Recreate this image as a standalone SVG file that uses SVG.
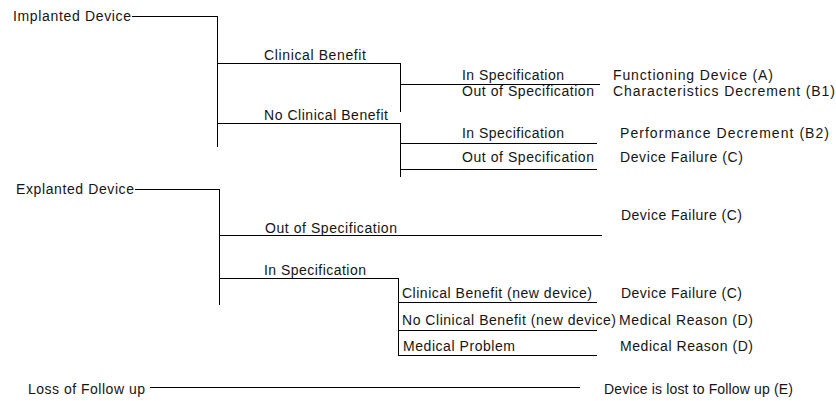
<svg xmlns="http://www.w3.org/2000/svg" width="836" height="401" viewBox="0 0 836 401">
<style>
text{font-family:"Liberation Sans",Arial,sans-serif;font-size:14px;fill:#151515}
.c line{stroke:#000;stroke-width:1;shape-rendering:crispEdges}
</style>
<rect width="836" height="401" fill="#fff"/>
<g class="c" id="connectors">
<line x1="132" y1="16" x2="217" y2="16"/>
<line x1="217" y1="16" x2="217" y2="147"/>
<line x1="217" y1="63" x2="400" y2="63"/>
<line x1="400" y1="63" x2="400" y2="112"/>
<line x1="400" y1="84" x2="600" y2="84"/>
<line x1="217" y1="123" x2="400" y2="123"/>
<line x1="400" y1="123" x2="400" y2="177"/>
<line x1="400" y1="143" x2="597" y2="143"/>
<line x1="400" y1="169" x2="597" y2="169"/>
<line x1="135" y1="189" x2="219" y2="189"/>
<line x1="219" y1="189" x2="219" y2="305"/>
<line x1="219" y1="235" x2="602" y2="235"/>
<line x1="219" y1="278" x2="399" y2="278"/>
<line x1="398" y1="278" x2="398" y2="356"/>
<line x1="398" y1="302" x2="597" y2="302"/>
<line x1="398" y1="330" x2="597" y2="330"/>
<line x1="398" y1="355" x2="597" y2="355"/>
<line x1="150" y1="387" x2="580" y2="387"/>
</g>
<g id="implanted"><text x="13" y="20.5" textLength="118" lengthAdjust="spacing">Implanted Device</text></g>
<g id="clinical-benefit"><text x="264" y="60" textLength="102" lengthAdjust="spacing">Clinical Benefit</text></g>
<g id="no-clinical-benefit"><text x="264" y="120" textLength="124" lengthAdjust="spacing">No Clinical Benefit</text></g>
<g id="cb-in-spec"><text x="462" y="80" textLength="102" lengthAdjust="spacing">In Specification</text></g>
<g id="cb-out-spec"><text x="462" y="96" textLength="132" lengthAdjust="spacing">Out of Specification</text></g>
<g id="outcome-a"><text x="613" y="80" textLength="160" lengthAdjust="spacing">Functioning Device (A)</text></g>
<g id="outcome-b1"><text x="613" y="96" textLength="222" lengthAdjust="spacing">Characteristics Decrement (B1)</text></g>
<g id="ncb-in-spec"><text x="462" y="138" textLength="102" lengthAdjust="spacing">In Specification</text></g>
<g id="ncb-out-spec"><text x="462" y="162" textLength="132" lengthAdjust="spacing">Out of Specification</text></g>
<g id="outcome-b2"><text x="620" y="138" textLength="209" lengthAdjust="spacing">Performance Decrement (B2)</text></g>
<g id="outcome-c1"><text x="620" y="162" textLength="123" lengthAdjust="spacing">Device Failure (C)</text></g>
<g id="explanted"><text x="16" y="193.5" textLength="118" lengthAdjust="spacing">Explanted Device</text></g>
<g id="ex-out-spec"><text x="265" y="232.5" textLength="132" lengthAdjust="spacing">Out of Specification</text></g>
<g id="outcome-c2"><text x="621" y="220" textLength="121" lengthAdjust="spacing">Device Failure (C)</text></g>
<g id="ex-in-spec"><text x="264" y="274.5" textLength="102" lengthAdjust="spacing">In Specification</text></g>
<g id="ex-cb-new"><text x="402" y="297.5" textLength="190" lengthAdjust="spacing">Clinical Benefit (new device)</text></g>
<g id="outcome-c3"><text x="621" y="297.5" textLength="121" lengthAdjust="spacing">Device Failure (C)</text></g>
<g id="ex-ncb-new"><text x="402" y="324.5" textLength="214" lengthAdjust="spacing">No Clinical Benefit (new device)</text></g>
<g id="outcome-d1"><text x="619" y="324.5" textLength="134" lengthAdjust="spacing">Medical Reason (D)</text></g>
<g id="ex-med-problem"><text x="403" y="351" textLength="112" lengthAdjust="spacing">Medical Problem</text></g>
<g id="outcome-d2"><text x="620" y="351" textLength="133" lengthAdjust="spacing">Medical Reason (D)</text></g>
<g id="loss"><text x="28" y="393.5" textLength="117" lengthAdjust="spacing">Loss of Follow up</text></g>
<g id="outcome-e"><text x="604" y="393.5" textLength="189" lengthAdjust="spacing">Device is lost to Follow up (E)</text></g>
</svg>
